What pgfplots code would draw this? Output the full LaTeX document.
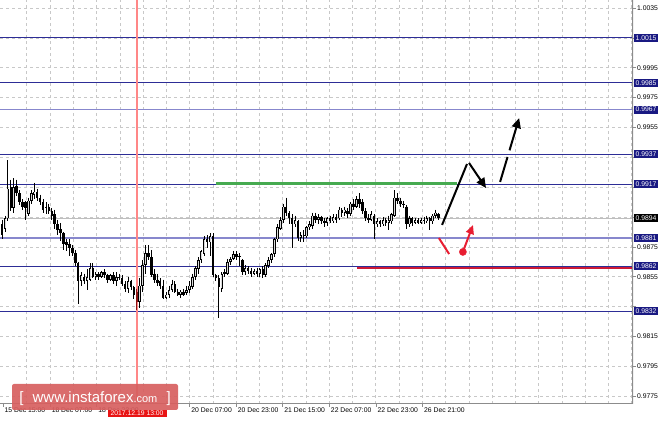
\documentclass[border=0pt]{standalone}
\usepackage{pgfplots}
\pgfplotsset{compat=1.18}
\usepackage{pgfplotstable}
\usepackage{fontspec}
\setmainfont{Liberation Sans}
\usetikzlibrary{arrows.meta}
\definecolor{lvl}{RGB}{45,45,150}
\definecolor{lvllight}{RGB}{135,135,205}
\definecolor{gridc}{RGB}{200,200,200}
\definecolor{bord}{RGB}{140,140,140}
\definecolor{vred}{RGB}{255,135,135}
\definecolor{gline}{RGB}{70,170,80}
\definecolor{rline}{RGB}{205,25,55}
\definecolor{darr}{RGB}{232,30,50}
\definecolor{logo}{RGB}{215,95,95}
\definecolor{hcandle}{RGB}{140,20,20}
\definecolor{boxblue}{RGB}{25,25,130}
\definecolor{bidc}{RGB}{190,190,190}
\newcommand{\lab}{\fontsize{6.8}{8}\selectfont}

\pgfplotstableread{
i o h l c
0 9890 9893 9880 9883
1 9887 9896 9885 9894
2 9894 9933 9892 9914
3 9915 9920 9899 9901
4 9901 9921 9898 9915
5 9916 9920 9909 9911
6 9911 9913 9903 9905
7 9905 9907 9900 9902
8 9905 9906 9893 9901
9 9897 9908 9896 9906
10 9906 9913 9904 9911
11 9910 9918 9907 9912
12 9912 9914 9906 9908
13 9908 9910 9903 9905
14 9905 9907 9898 9900
15 9901 9905 9897 9902
16 9902 9904 9897 9899
17 9899 9901 9893 9896
18 9897 9900 9887 9890
19 9890 9893 9883 9886
20 9887 9891 9879 9884
21 9884 9885 9873 9877
22 9878 9880 9872 9876
23 9877 9880 9869 9874
24 9874 9876 9869 9871
25 9871 9873 9862 9864
26 9864 9865 9837 9852
27 9852 9858 9849 9856
28 9855 9857 9850 9852
29 9852 9860 9846 9855
30 9853 9864 9852 9861
31 9861 9864 9854 9855
32 9855 9858 9853 9857
33 9857 9858 9853 9855
34 9855 9859 9854 9858
35 9858 9860 9854 9856
36 9856 9857 9851 9853
37 9853 9857 9852 9856
38 9856 9858 9850 9852
39 9852 9858 9849 9855
40 9855 9857 9853 9854
41 9854 9856 9849 9850
42 9850 9852 9845 9847
43 9847 9855 9844 9852
44 9852 9853 9846 9848
45 9848 9849 9840 9843
46 9845 9847 9833 9838
47 9838 9854 9834 9849
48 9849 9866 9845 9863
49 9863 9876 9857 9871
50 9871 9876 9866 9868
51 9868 9873 9855 9856
52 9857 9860 9851 9853
53 9853 9857 9849 9851
54 9852 9854 9847 9849
55 9849 9853 9840 9841
56 9841 9845 9840 9843
57 9843 9849 9841 9846
58 9846 9853 9845 9850
59 9850 9852 9844 9845
60 9845 9847 9842 9843
61 9843 9846 9841 9845
62 9845 9847 9842 9843
63 9844 9849 9843 9846
64 9846 9852 9844 9849
65 9848 9857 9847 9855
66 9855 9862 9853 9861
67 9860 9868 9857 9866
68 9866 9873 9864 9872
69 9870 9882 9869 9880
70 9880 9883 9874 9878
71 9878 9884 9869 9882
72 9882 9884 9855 9856
73 9856 9857 9852 9854
74 9854 9856 9827 9848
75 9847 9858 9845 9857
76 9857 9860 9855 9858
77 9857 9867 9856 9865
78 9865 9868 9863 9867
79 9867 9872 9866 9870
80 9870 9872 9866 9868
81 9868 9871 9862 9869
82 9866 9867 9856 9858
83 9858 9863 9856 9861
84 9861 9862 9857 9859
85 9859 9861 9855 9857
86 9857 9860 9856 9859
87 9859 9861 9855 9857
88 9857 9861 9855 9860
89 9860 9862 9854 9856
90 9856 9864 9855 9863
91 9862 9868 9861 9866
92 9866 9871 9864 9870
93 9870 9881 9868 9880
94 9880 9890 9878 9888
95 9887 9895 9886 9893
96 9893 9904 9891 9902
97 9902 9908 9896 9898
98 9898 9899 9890 9894
99 9894 9897 9874 9890
100 9890 9896 9888 9893
101 9892 9893 9879 9881
102 9881 9885 9878 9883
103 9883 9886 9878 9882
104 9882 9889 9881 9888
105 9888 9892 9886 9890
106 9889 9898 9887 9896
107 9896 9898 9891 9893
108 9893 9897 9890 9895
109 9895 9896 9890 9892
110 9892 9894 9888 9891
111 9891 9895 9889 9894
112 9894 9896 9891 9892
113 9892 9897 9891 9895
114 9895 9897 9891 9893
115 9894 9902 9893 9900
116 9900 9901 9895 9898
117 9898 9902 9896 9900
118 9899 9901 9894 9897
119 9897 9905 9896 9904
120 9904 9907 9900 9902
121 9902 9909 9901 9907
122 9907 9911 9901 9904
123 9905 9907 9897 9899
124 9899 9901 9892 9894
125 9894 9897 9891 9893
126 9893 9899 9892 9897
127 9896 9897 9880 9890
128 9890 9894 9888 9892
129 9892 9893 9888 9890
130 9890 9895 9889 9893
131 9893 9894 9889 9891
132 9891 9896 9886 9893
133 9892 9898 9890 9897
134 9896 9913 9895 9908
135 9908 9911 9904 9906
136 9906 9908 9902 9904
137 9904 9906 9901 9903
138 9902 9903 9887 9890
139 9890 9896 9888 9894
140 9894 9895 9889 9891
141 9891 9894 9890 9893
142 9893 9894 9890 9891
143 9891 9894 9890 9893
144 9893 9895 9890 9892
145 9892 9896 9891 9894
146 9894 9895 9886 9892
147 9892 9897 9890 9896
148 9896 9900 9894 9898
149 9897 9898 9893 9894
}\candles

\begin{document}
\begin{tikzpicture}[x=1pt,y=1pt]
\begin{axis}[
  scale only axis, width=633pt, height=404pt,
  xmin=-0.683, xmax=215.36, ymin=9769.7, ymax=10040.4,
  axis line style={draw=none},
  xtick pos=bottom, ytick pos=right, yticklabel pos=right,
  xtick={8.46,16.40,...,215}, xticklabels={},
  xtick style={draw=none},
  extra x ticks={0.34,16.40,32.29,64.05,79.94,95.82,111.7,127.6,143.5},
  extra x tick labels={15 Dec 15:00,18 Dec 07:00,18 Dec 23:00,20 Dec 07:00,20 Dec 23:00,21 Dec 15:00,22 Dec 07:00,22 Dec 23:00,26 Dec 21:00},
  extra x tick style={grid=none, xtick style={draw=bord, line width=0.6pt}, xticklabel style={anchor=north west, inner sep=0pt, xshift=1.5pt, yshift=-1pt}},
  ytick={9775,9795,...,10035},
  yticklabels={0.9775,0.9795,0.9815,,0.9855,0.9875,,,,0.9955,0.9975,0.9995,,1.0035},
  ytick style={draw=bord, line width=0.6pt},
  tick align=outside, major tick length=3pt,
  yticklabel style={anchor=west, inner sep=0pt, xshift=1pt},
  ticklabel style={font=\lab, text=black},
  xmajorgrids, ymajorgrids,
  grid style={draw=gridc, dash pattern=on 3pt off 3pt, line width=0.6pt},
]
% level lines
\addplot[lvl, line width=0.9pt, forget plot] coordinates {(-1,10015) (216,10015)};
\addplot[lvl, line width=0.9pt, forget plot] coordinates {(-1,9985) (216,9985)};
\addplot[lvllight, line width=1.5pt, forget plot] coordinates {(-1,9967) (216,9967)};
\addplot[lvl, line width=0.9pt, forget plot] coordinates {(-1,9937) (216,9937)};
\addplot[lvl, line width=0.9pt, forget plot] coordinates {(-1,9917) (216,9917)};
\addplot[bidc, line width=0.9pt, forget plot] coordinates {(-1,9894) (216,9894)};
\addplot[lvllight, line width=1.5pt, forget plot] coordinates {(-1,9881) (216,9881)};
\addplot[lvl, line width=0.9pt, forget plot] coordinates {(-1,9862) (216,9862)};
\addplot[lvl, line width=0.9pt, forget plot] coordinates {(-1,9832) (216,9832)};
% red vertical line
\addplot[vred, line width=1.3pt, forget plot] coordinates {(46.1,9760) (46.1,10050)};
% candle wicks
\addplot[draw=none, mark=none, forget plot,
  error bars/.cd, y dir=minus, y explicit, error mark=none,
  error bar style={draw=black, line width=0.8pt, solid}]
  table[x=i, y=h, y error minus expr={\thisrow{h}-\thisrow{l}}] {\candles};
% candle bodies
\addplot[draw=none, mark=none, forget plot,
  error bars/.cd, y dir=minus, y explicit, error mark=none,
  error bar style={draw=black, line width=2.5pt, solid}]
  table[x=i, y expr={max(\thisrow{o},\thisrow{c})}, y error minus expr={max(abs(\thisrow{o}-\thisrow{c}),0.8)}] {\candles};
% hollow interior of bull candles
\addplot[draw=none, mark=none, forget plot,
  error bars/.cd, y dir=minus, y explicit, error mark=none,
  error bar style={draw=white!70!gray, line width=0.8pt, solid}]
  table[x=i, y expr={max(\thisrow{o},\thisrow{c})-0.55}, y error minus expr={max(\thisrow{c}-\thisrow{o}-1.1,0)}] {\candles};
% highlighted candle
\addplot[draw=none, mark=none, forget plot,
  error bars/.cd, y dir=minus, y explicit, error mark=none,
  error bar style={draw=hcandle, line width=0.8pt, solid}]
  coordinates {(46,9847) -= (0,14)};
\addplot[draw=none, mark=none, forget plot,
  error bars/.cd, y dir=minus, y explicit, error mark=none,
  error bar style={draw=hcandle, line width=2.5pt, solid}]
  coordinates {(46,9845) -= (0,7)};
% green and red segments
\addplot[gline, line width=3pt, forget plot] coordinates {(73.0,9917.6) (155.3,9917.6)};
\addplot[rline, line width=2.4pt, forget plot] coordinates {(121.2,9861) (216,9861)};
% black arrows
\addplot[black, line width=2pt, forget plot] coordinates {(150.2,9889.7) (158.7,9930.5)};
\addplot[black, line width=2pt, forget plot, -{Triangle[length=10pt,width=9pt]}] coordinates {(159.4,9931.2) (165.2,9914.4)};
\addplot[black, line width=2pt, forget plot, dash pattern=on 26pt off 7pt, -{Triangle[length=10pt,width=9pt]}] coordinates {(170.0,9918.5) (176.5,9961.3)};
% red arrows
\addplot[darr, line width=2pt, forget plot] coordinates {(149.1,9880.9) (152.6,9870.2)};
\addplot[darr, line width=2pt, forget plot, -{Triangle[length=9pt,width=8pt]}] coordinates {(157.3,9871.6) (160.75,9889.65)};
\addplot[darr, only marks, mark=*, mark size=3.6pt, forget plot] coordinates {(157.3,9871.6)};
% chart frame (bottom and right)
\draw[bord, line width=1.1pt] (rel axis cs:0,0) -- (rel axis cs:1,0) -- (rel axis cs:1,1);
% reference coordinates
\coordinate (SW) at (rel axis cs:0,0);
\coordinate (NE) at (rel axis cs:1,1);
\coordinate (B1) at (axis cs:215.36,10015);
\coordinate (B2) at (axis cs:215.36,9985);
\coordinate (B3) at (axis cs:215.36,9967);
\coordinate (B4) at (axis cs:215.36,9937);
\coordinate (B5) at (axis cs:215.36,9917);
\coordinate (B6) at (axis cs:215.36,9881);
\coordinate (B7) at (axis cs:215.36,9862);
\coordinate (B8) at (axis cs:215.36,9832);
\coordinate (B9) at (axis cs:215.36,9894);
\coordinate (RD) at (axis cs:46.1,9769.7);
\end{axis}
% price boxes on the right scale
\tikzset{pbox/.style={fill=boxblue, text=white, font=\lab, inner xsep=1.4pt, inner ysep=0pt, minimum height=8pt, anchor=west, xshift=1pt}}
\node[pbox] at (B1) {1.0015};
\node[pbox] at (B2) {0.9985};
\node[pbox] at (B3) {0.9967};
\node[pbox] at (B4) {0.9937};
\node[pbox] at (B5) {0.9917};
\node[pbox] at (B6) {0.9881};
\node[pbox] at (B7) {0.9862};
\node[pbox] at (B8) {0.9832};
\node[pbox, fill=black] at (B9) {0.9894};
% red date box
\node[fill={rgb,255:red,232;green,20;blue,20}, text=white, font=\lab, inner xsep=3pt, inner ysep=1pt] at ([yshift=-9.5pt]RD) {2017.12.19 13:00};
% logo
\fill[logo, rounded corners=2pt, opacity=0.92] ([shift={(12pt,-6pt)}]SW) rectangle ([shift={(178pt,20pt)}]SW);
\node[text=white, anchor=base, inner sep=0pt] at ([shift={(95pt,1pt)}]SW) {\fontsize{15}{15}\selectfont [\,\, www.instaforex\fontsize{11}{11}\selectfont.com\fontsize{15}{15}\selectfont\,\, ]};
% fixed picture size
\pgfresetboundingbox
\path[use as bounding box] ([yshift=-18pt]SW) rectangle ([xshift=31pt]NE);
\end{tikzpicture}
\end{document}
